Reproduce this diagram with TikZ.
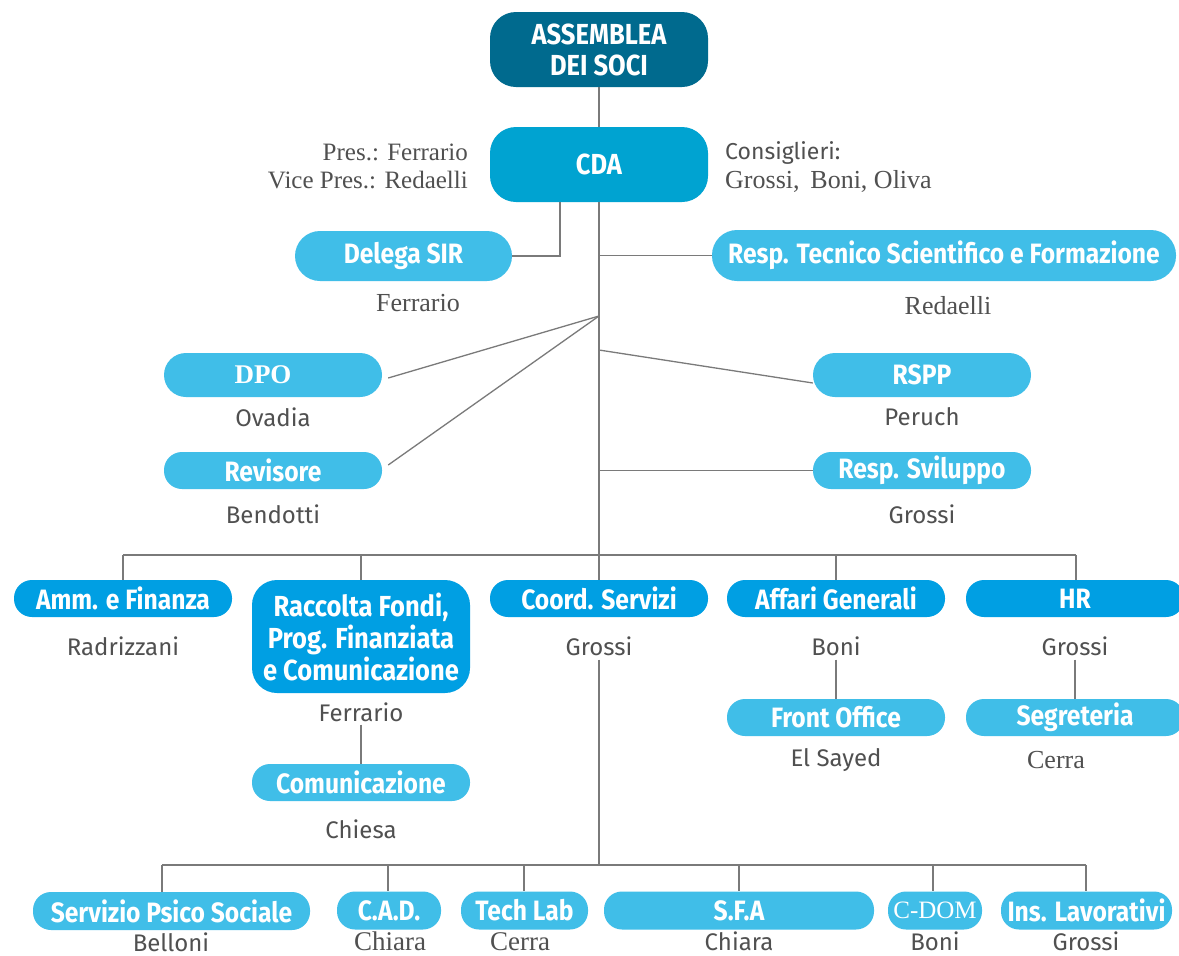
\documentclass[tikz,border=0pt]{standalone}
\usepackage{fontspec}
\setmainfont{Liberation Serif}
\newfontfamily\lab[FakeStretch=0.88]{Fira Sans}
\newfontfamily\nmf{Fira Sans}
\newfontfamily\srf{Liberation Serif}
\definecolor{cDark}{HTML}{006A8E}
\definecolor{cCDA}{HTML}{00A3D1}
\definecolor{cMid}{HTML}{009FE3}
\definecolor{cLight}{HTML}{40BEE8}
\definecolor{cLine}{HTML}{7A7A7A}
\definecolor{cName}{HTML}{505050}
\begin{document}
\begin{tikzpicture}[x=1pt,y=-1pt,
  box/.style={fill=cLight, text=white, rounded corners=18pt, minimum height=37pt,
    minimum width=218pt, inner sep=0pt, align=center,
    font=\lab\bfseries\fontsize{28}{30}\selectfont},
  mbox/.style={box, fill=cMid},
  sbox/.style={box, minimum height=38pt, font=\lab\bfseries\fontsize{28}{30}\selectfont},
  nm/.style={text=cName, inner sep=0pt, font=\nmf\fontsize{24}{26}\selectfont},
  snm/.style={text=cName, inner sep=0pt, font=\srf\fontsize{26}{28}\selectfont},
  conn/.style={draw=cLine, line width=1.3pt}]
\useasboundingbox[fill=white] (0,0) rectangle (1179,956);

% top
\node[box, fill=cDark, minimum height=75pt, rounded corners=26pt,
  font=\lab\bfseries\fontsize{29}{31}\selectfont] (ass) at (599,49.5) {ASSEMBLEA\\DEI SOCI};
\node[box, fill=cCDA, minimum height=75pt, rounded corners=26pt,
  font=\lab\bfseries\fontsize{29}{31}\selectfont] (cda) at (599,164.5) {CDA};
\node[snm, anchor=base east, font=\srf\fontsize{25}{28}\selectfont] (pres1) at (468,160) {Pres.: Ferrario};
\node[snm, anchor=base east, font=\srf\fontsize{25}{28}\selectfont] (pres2) at (468,188) {Vice Pres.: Redaelli};
\node[nm, anchor=base west, font=\nmf\fontsize{23}{26}\selectfont] (cons1) at (725,159) {Consiglieri:};
\node[snm, anchor=base west] (cons2) at (725,188) {Grossi,\, Boni, Oliva};

% second level
\node[box, minimum width=217pt, minimum height=50pt, rounded corners=25pt] (sir) at (403.5,256) {Delega SIR};
\node[snm] (n_sir) at (418,303) {Ferrario};
\node[box, minimum width=464pt, minimum height=51pt, rounded corners=25pt] (rts) at (944,255.5) {Resp. Tecnico Scientifico e Formazione};
\node[snm] (n_rts) at (948,306) {Redaelli};

\node[box, minimum height=44pt, rounded corners=22pt, font=\srf\bfseries\fontsize{27}{28}\selectfont] (dpo) at (273,375) {\hspace*{-20pt}DPO};
\node[nm] (n_dpo) at (273,417) {Ovadia};
\node[box] (rev) at (273,470.5) {Revisore};
\node[nm] (n_rev) at (273,514) {Bendotti};
\node[box, minimum height=44pt, rounded corners=22pt] (rspp) at (922,375) {RSPP};
\node[nm] (n_rspp) at (922,417) {Peruch};
\node[box] (svil) at (922,470.5) {Resp. Sviluppo};
\node[nm] (n_svil) at (922,514) {Grossi};

% third level
\node[mbox] (amm) at (123,598.5) {Amm. e Finanza};
\node[nm] (n_amm) at (123,646) {Radrizzani};
\node[mbox, minimum height=113pt, rounded corners=25pt,
  font=\lab\bfseries\fontsize{29}{32}\selectfont] (racc) at (361,636.5) {Raccolta Fondi,\\Prog. Finanziata\\e Comunicazione};
\node[nm] (n_racc) at (361,712) {Ferrario};
\node[box] (com) at (361,782.5) {Comunicazione};
\node[nm] (n_com) at (361,829) {Chiesa};
\node[mbox] (coord) at (599,598.5) {Coord. Servizi};
\node[nm] (n_coord) at (599,646) {Grossi};
\node[mbox] (aff) at (836,598.5) {Affari Generali};
\node[nm] (n_aff) at (836,646) {Boni};
\node[box] (front) at (836,717.5) {Front Office};
\node[nm] (n_front) at (836,760) {El Sayed};
\node[mbox] (hr) at (1075,598.5) {HR};
\node[nm] (n_hr) at (1075,646) {Grossi};
\node[box] (segr) at (1075,717.5) {Segreteria};
\node[snm] (n_segr) at (1056,760) {Cerra};

% bottom row
\node[sbox, minimum width=277pt] (sps) at (171.5,911) {Servizio Psico Sociale};
\node[nm] (n_sps) at (171,942) {Belloni};
\node[sbox, minimum width=104pt] (cad) at (389,910.5) {C.A.D.};
\node[snm, font=\srf\fontsize{27}{28}\selectfont] (n_cad) at (390,941) {Chiara};
\node[sbox, minimum width=127pt] (tech) at (524.5,910.5) {Tech Lab};
\node[snm, font=\srf\fontsize{27}{28}\selectfont] (n_tech) at (520,942) {Cerra};
\node[sbox, minimum width=270pt] (sfa) at (739,910.5) {S.F.A};
\node[nm] (n_sfa) at (739,941) {Chiara};
\node[sbox, minimum width=94pt, font=\srf\fontsize{25}{26}\selectfont] (cdom) at (935,910.5) {C-DOM};
\node[nm] (n_cdom) at (935,941) {Boni};
\node[sbox, minimum width=171pt] (ins) at (1086.5,910.5) {Ins. Lavorativi};
\node[nm] (n_ins) at (1086,941) {Grossi};

% coordinates
\coordinate (sirup) at (560,202);
\coordinate (hub) at (599,316);
\coordinate (t_rspp) at (599,350);
\coordinate (busL) at (123,555);
\coordinate (busR) at (1076,555);
\coordinate (bb) at (599,865);
\coordinate (bbL) at (162,865);
\coordinate (bbR) at (1086,865);
\coordinate (b2) at (388,865);
\coordinate (b3) at (524,865);
\coordinate (b4) at (739,865);
\coordinate (b5) at (933,865);

% connectors
\begin{scope}[conn]
\draw (ass) -- (cda);
\draw (cda.south) -- (coord.north);
\draw (sir.east) -| (sirup);
\draw (hub |- rts.west) -- (rts.west);
\draw ([xshift=6pt,yshift=-3pt]dpo.east) -- (hub);
\draw ([xshift=6pt,yshift=5.5pt]rev.east) -- (hub);
\draw (t_rspp) -- ([yshift=-8pt]rspp.west);
\draw (hub |- svil.west) -- (svil.west);
\draw (busL) -- (busR);
\draw (busL) -- (amm.north);
\draw (busL -| racc.north) -- (racc.north);
\draw (busL -| aff.north) -- (aff.north);
\draw (busR) -- (busR |- hr.north);
\draw ([yshift=-3pt]n_racc.south) -- (com.north);
\draw ([yshift=-4pt]n_aff.south) -- (front.north);
\draw ([yshift=-4pt]n_hr.south) -- (n_hr.south |- segr.north);
\draw ([yshift=-4pt]n_coord.south) -- (bb);
\draw (bbL) -- (bbR);
\draw (bbL) -- (bbL |- sps.north);
\draw (b2) -- (b2 |- cad.north);
\draw (b3) -- (b3 |- tech.north);
\draw (b4) -- (b4 |- sfa.north);
\draw (b5) -- (b5 |- cdom.north);
\draw (bbR) -- (bbR |- ins.north);
\end{scope}
\end{tikzpicture}
\end{document}
